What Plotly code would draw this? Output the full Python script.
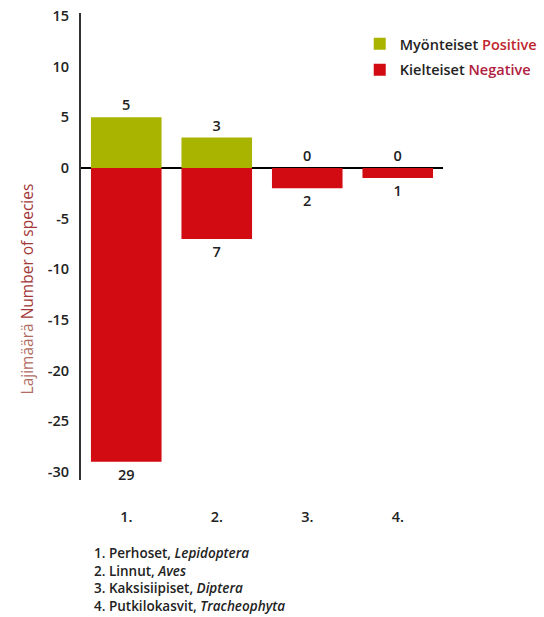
import plotly.graph_objects as go

categories = ["1.", "2.", "3.", "4."]
positive = [5, 3, 0, 0]
negative = [29, 7, 2, 1]
common_names = ["Perhoset", "Linnut", "Kaksisiipiset", "Putkilokasvit"]
latin_names = ["Lepidoptera", "Aves", "Diptera", "Tracheophyta"]
y_ticks = [15, 10, 5, 0, -5, -10, -15, -20, -25, -30]

FONT = "'Open Sans', Lato, sans-serif"
GREEN = "#a9b400"
RED = "#d20a12"
TXT = "#222222"

fig = go.Figure()
fig.add_trace(go.Bar(
    x=categories, y=positive, name="Myönteiset <span style='color:#c0262e'>Positive</span>",
    marker=dict(color=GREEN, line=dict(width=0)),
    text=[str(v) for v in positive], textposition="outside", cliponaxis=False,
    textfont=dict(family=FONT, size=14.5, color=TXT, weight=600), legendgroup="a",
))
fig.add_trace(go.Bar(
    x=categories, y=[-v for v in negative], name="Kielteiset <span style='color:#b0203e'>Negative</span>",
    marker=dict(color=RED, line=dict(width=0)),
    text=[str(v) for v in negative], textposition="outside", cliponaxis=False,
    textfont=dict(family=FONT, size=14.5, color=TXT, weight=600), legendgroup="b",
))

footnote = "<br>".join(f"{c} {n}, <i>{l}</i>" for c, n, l in zip(categories, common_names, latin_names))

annotations = [
    dict(text="<span style='color:#b06a62'>Lajimäärä</span> <span style='color:#a3383a'>Number of species</span>",
         xref="paper", yref="paper", x=-0.148, y=0.409, textangle=-90,
         xanchor="center", yanchor="middle",
         showarrow=False, font=dict(family=FONT, size=15.5)),
    dict(text=footnote, xref="paper", yref="paper", x=0.03, y=-0.133,
         xanchor="left", yanchor="top", align="left", showarrow=False,
         font=dict(family=FONT, size=13.5, color=TXT, weight=600)),
]

fig.update_layout(
    width=544, height=617,
    margin=dict(l=81, r=101, t=13, b=137, autoexpand=False),
    paper_bgcolor="white", plot_bgcolor="white",
    barmode="relative", bargap=0.22,
    font=dict(family=FONT, size=14, color=TXT),
    showlegend=True,
    legend=dict(x=0.77, y=0.968, xanchor="left", yanchor="top",
                font=dict(family=FONT, size=14.5, color=TXT, weight=600),
                tracegroupgap=4, bgcolor="rgba(0,0,0,0)"),
    xaxis=dict(range=[-0.5, 3.5], showline=False, showgrid=False, zeroline=False,
               ticks="", ticklabelstandoff=26, automargin=False,
               ticklabeloverflow="allow",
               tickfont=dict(family=FONT, size=14.5, color=TXT, weight=600)),
    yaxis=dict(range=[-30.8, 15.3], tickvals=y_ticks, ticktext=[str(v) for v in y_ticks],
               showgrid=False, showline=True, linecolor="#333333", linewidth=2,
               zeroline=True, zerolinecolor="#000000", zerolinewidth=1.5,
               ticks="", ticklabelstandoff=7, automargin=False,
               ticklabeloverflow="allow",
               tickfont=dict(family=FONT, size=14.5, color=TXT, weight=600)),
    annotations=annotations,
)

fig.write_html("out.html", config={"displayModeBar": False},
               post_script="document.body.style.margin='0px';")
